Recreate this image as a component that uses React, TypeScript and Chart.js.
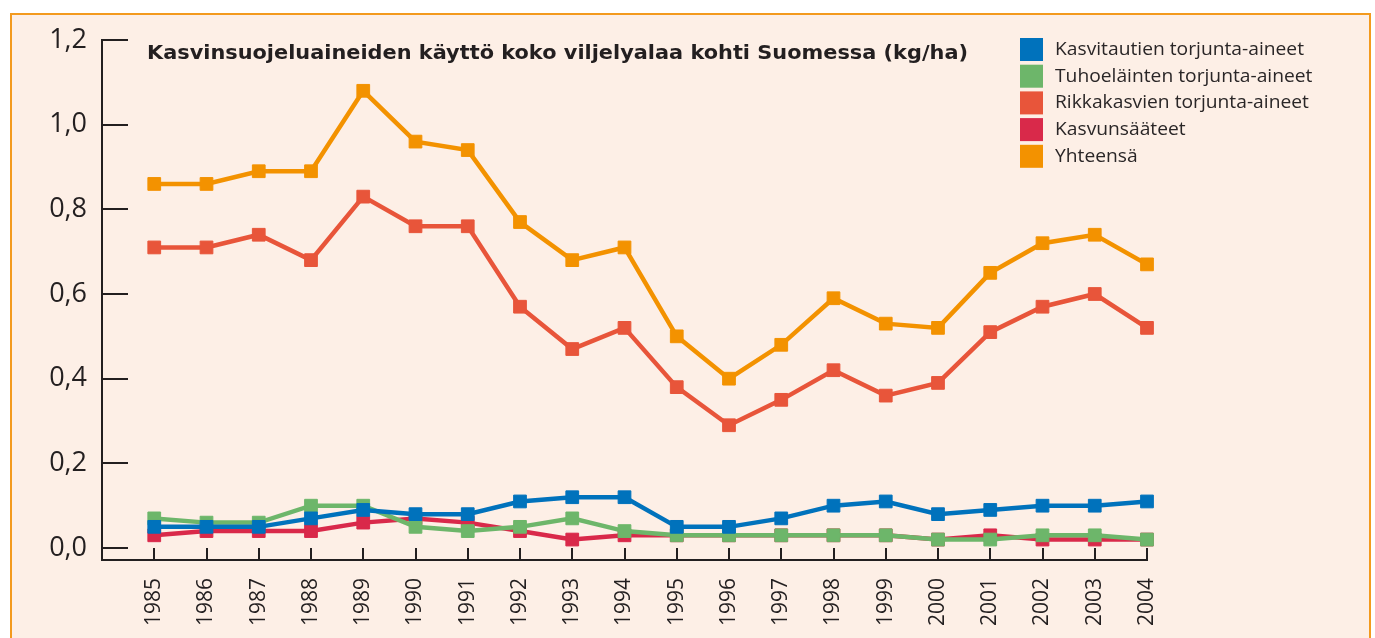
import React, { useEffect, useRef } from "react";
import { Chart, registerables } from "chart.js";

Chart.register(...registerables);

const years = [1985, 1986, 1987, 1988, 1989, 1990, 1991, 1992, 1993, 1994, 1995, 1996, 1997, 1998, 1999, 2000, 2001, 2002, 2003, 2004];
const kasvitautien = [0.05, 0.05, 0.05, 0.07, 0.09, 0.08, 0.08, 0.11, 0.12, 0.12, 0.05, 0.05, 0.07, 0.10, 0.11, 0.08, 0.09, 0.10, 0.10, 0.11];
const tuhoelainten = [0.07, 0.06, 0.06, 0.10, 0.10, 0.05, 0.04, 0.05, 0.07, 0.04, 0.03, 0.03, 0.03, 0.03, 0.03, 0.02, 0.02, 0.03, 0.03, 0.02];
const rikkakasvien = [0.71, 0.71, 0.74, 0.68, 0.83, 0.76, 0.76, 0.57, 0.47, 0.52, 0.38, 0.29, 0.35, 0.42, 0.36, 0.39, 0.51, 0.57, 0.60, 0.52];
const kasvunsaateet = [0.03, 0.04, 0.04, 0.04, 0.06, 0.07, 0.06, 0.04, 0.02, 0.03, 0.03, 0.03, 0.03, 0.03, 0.03, 0.02, 0.03, 0.02, 0.02, 0.02];
const yhteensa = [0.86, 0.86, 0.89, 0.89, 1.08, 0.96, 0.94, 0.77, 0.68, 0.71, 0.50, 0.40, 0.48, 0.59, 0.53, 0.52, 0.65, 0.72, 0.74, 0.67];
const yTicks = [0, 0.2, 0.4, 0.6, 0.8, 1.0, 1.2];

const seriesLabels = [
  "Kasvitautien torjunta-aineet",
  "Tuhoeläinten torjunta-aineet",
  "Rikkakasvien torjunta-aineet",
  "Kasvunsääteet",
  "Yhteensä",
];
const seriesColors = ["#0072bc", "#6db66a", "#e8553a", "#d9294a", "#f39200"];
const titleText = "Kasvinsuojeluaineiden käyttö koko viljelyalaa kohti Suomessa (kg/ha)";

const INK = "#231f20";
const FONT = '"Open Sans", "Noto Sans", sans-serif';

export default function App() {
  const ref = useRef<HTMLCanvasElement | null>(null);

  useEffect(() => {
    if (!ref.current) return;
    const values = [kasvitautien, tuhoelainten, rikkakasvien, kasvunsaateet, yhteensa];

    const decor = {
      id: "decor",
      beforeDatasetsDraw(chart: any) {
        const ctx = chart.ctx;
        const xs = chart.scales.x;
        const ys = chart.scales.y;
        const area = chart.chartArea;
        ctx.save();
        ctx.strokeStyle = INK;
        ctx.lineWidth = 2;
        ctx.beginPath();
        yTicks.forEach((v) => {
          const y = Math.round(ys.getPixelForValue(v));
          ctx.moveTo(area.left, y);
          ctx.lineTo(area.left + 26, y);
        });
        years.forEach((yr) => {
          const x = Math.round(xs.getPixelForValue(yr));
          ctx.moveTo(x, area.bottom);
          ctx.lineTo(x, area.bottom - 12);
        });
        ctx.stroke();

        // title
        ctx.fillStyle = INK;
        ctx.font = `bold 19px "DejaVu Sans", ${FONT}`;
        ctx.textBaseline = "alphabetic";
        ctx.textAlign = "left";
        const tw = ctx.measureText(titleText).width;
        ctx.save();
        ctx.translate(147, 59);
        ctx.scale(821 / tw, 1);
        ctx.fillText(titleText, 0, 0);
        ctx.restore();

        // legend
        ctx.font = `17.5px ${FONT}`;
        ctx.textBaseline = "middle";
        const lw = ctx.measureText(seriesLabels[0]).width;
        const ls = 249 / lw;
        seriesLabels.forEach((lab, i) => {
          const top = 38 + i * 26.7;
          ctx.fillStyle = seriesColors[i];
          ctx.fillRect(1020, top, 23, 23);
          ctx.fillStyle = "#2a2627";
          ctx.save();
          ctx.translate(1055, top + 12);
          ctx.scale(ls, 1);
          ctx.fillText(lab, 0, 0);
          ctx.restore();
        });
        ctx.restore();
      },
    };

    const chart = new Chart(ref.current, {
      type: "line",
      data: {
        datasets: seriesLabels.map((label, i) => ({
          label,
          data: years.map((yr, j) => ({ x: yr, y: values[i][j] })),
          borderColor: seriesColors[i],
          backgroundColor: seriesColors[i],
          borderWidth: 4.5,
          pointStyle: "rect",
          pointRadius: 9,
          pointBorderWidth: 1,
          pointBorderColor: seriesColors[i],
          pointBackgroundColor: seriesColors[i],
          tension: 0,
          clip: false,
        })),
      },
      options: {
        animation: false,
        responsive: false,
        devicePixelRatio: 1,
        layout: { padding: { left: 0, right: 228, top: 40, bottom: 0 } },
        plugins: {
          legend: { display: false },
          title: { display: false },
          tooltip: { enabled: false },
        },
        scales: {
          x: {
            type: "linear",
            min: 1984,
            max: 2004,
            afterFit: (s: any) => {
              s.height = 78;
            },
            afterBuildTicks: (s: any) => {
              s.ticks = years.map((v) => ({ value: v }));
            },
            grid: { display: false, drawTicks: false },
            border: { display: true, color: INK, width: 2 },
            ticks: {
              autoSkip: false,
              minRotation: 90,
              maxRotation: 90,
              padding: 18,
              color: INK,
              font: { family: FONT, size: 21 },
              callback: (v: any) => String(v),
            },
          },
          y: {
            type: "linear",
            min: -0.0283,
            max: 1.2,
            afterFit: (s: any) => {
              s.width = 102;
            },
            afterBuildTicks: (s: any) => {
              s.ticks = yTicks.map((v) => ({ value: v }));
            },
            grid: { display: false, drawTicks: false },
            border: { display: true, color: INK, width: 2 },
            ticks: {
              padding: 15,
              color: INK,
              font: { family: FONT, size: 27 },
              callback: (v: any) => Number(v).toFixed(1).replace(".", ","),
            },
          },
        },
      },
      plugins: [decor],
    });
    return () => chart.destroy();
  }, []);

  return (
    <div style={{ position: "fixed", left: 0, top: 0, width: 1375, height: 638, overflow: "hidden", background: "#ffffff" }}>
      <div
        style={{
          position: "absolute",
          left: 10,
          top: 13,
          width: 1361,
          height: 700,
          boxSizing: "border-box",
          border: "2px solid #f39a1e",
          background: "#fdefe6",
        }}
      />
      <canvas ref={ref} width={1375} height={638} style={{ position: "absolute", left: 0, top: 0, width: 1375, height: 638 }} />
    </div>
  );
}
